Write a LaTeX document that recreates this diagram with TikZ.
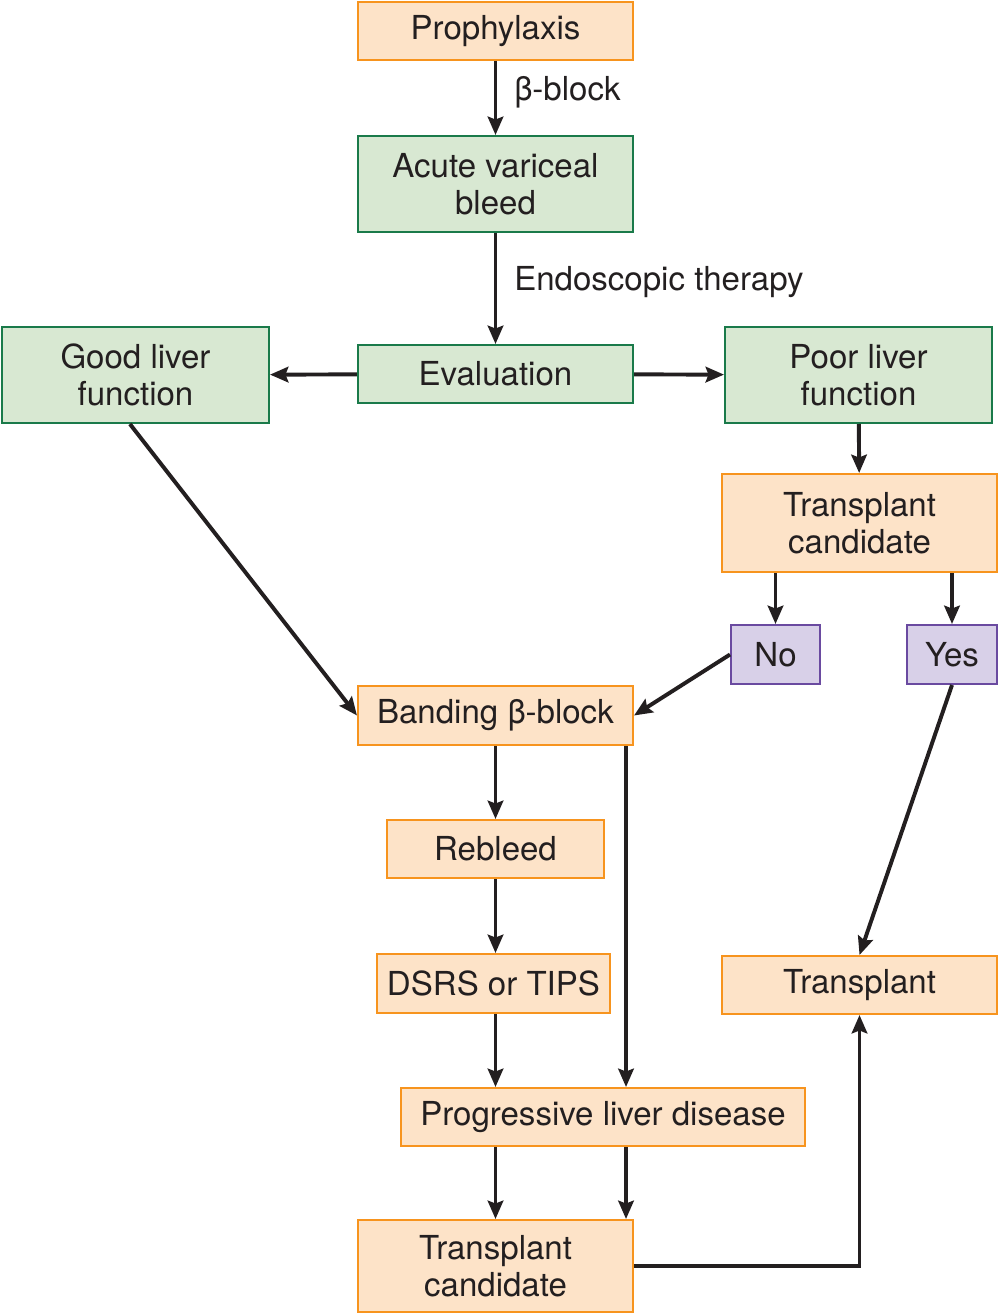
\documentclass[tikz,border=0pt]{standalone}
\usepackage{fontspec}
\setmainfont{TeX Gyre Heros}
\usetikzlibrary{arrows.meta,positioning}
\definecolor{peach}{RGB}{253,227,200}
\definecolor{peachline}{RGB}{247,148,30}
\definecolor{mint}{RGB}{216,232,210}
\definecolor{mintline}{RGB}{26,122,74}
\definecolor{lilac}{RGB}{216,208,232}
\definecolor{lilacline}{RGB}{106,74,160}
\definecolor{ink}{RGB}{35,31,32}

\tikzset{
  box/.style={draw, line width=1.4pt, align=center, inner sep=0pt, text=ink,
    font=\fontsize{23.5}{26.3}\selectfont},
  orangebox/.style={box, fill=peach, draw=peachline},
  greenbox/.style={box, fill=mint, draw=mintline},
  purplebox/.style={box, fill=lilac, draw=lilacline},
  flow/.style={-{Stealth[length=13pt,width=11pt,inset=2pt]}, line width=2.8pt, draw=ink},
  tag/.style={anchor=west, inner sep=0pt, text=ink, font=\fontsize{23.5}{26.3}\selectfont}
}

\begin{document}
\begin{tikzpicture}[x=0.025cm, y=-0.025cm]
    \useasboundingbox (0,0) rectangle (999,1314);

    % Top of the chart
    \node[orangebox, minimum width=6.875cm, minimum height=1.45cm] (proph) at (495.5,31) {Prophylaxis};
    \node[greenbox, minimum width=6.875cm, minimum height=2.4cm] (acute) at (495.5,184) {Acute variceal\\bleed};
    \node[greenbox, minimum width=6.875cm, minimum height=1.45cm] (eval) at (495.5,374) {Evaluation};
    \node[greenbox, minimum width=6.675cm, minimum height=2.4cm] (good) at (135.5,375) {Good liver\\function};
    \node[greenbox, minimum width=6.675cm, minimum height=2.4cm] (poor) at (858.5,375) {Poor liver\\function};

    % Right branch
    \node[orangebox, minimum width=6.875cm, minimum height=2.45cm] (tcand) at (859.5,523) {Transplant\\candidate};
    \node[purplebox, minimum width=2.225cm, minimum height=1.475cm] (no) at (775.5,654.5) {No};
    \node[purplebox, minimum width=2.25cm, minimum height=1.475cm] (yes) at (952,654.5) {Yes};
    \node[orangebox, minimum width=6.875cm, minimum height=1.45cm] (trans) at (859.5,985) {Transplant};

    % Left branch
    \node[orangebox, minimum width=6.875cm, minimum height=1.475cm] (band) at (495.5,715.5) {Banding β-block};
    \node[orangebox, minimum width=5.425cm, minimum height=1.45cm] (rebleed) at (495.5,849) {Rebleed};
    \node[orangebox, minimum width=5.825cm, minimum height=1.475cm] (dsrs) at (493.5,983.5) {DSRS or TIPS};
    \node[orangebox, minimum width=10.1cm, minimum height=1.45cm] (prog) at (603,1117) {Progressive liver disease};
    \node[orangebox, minimum width=6.875cm, minimum height=2.3cm] (cand) at (495.5,1266) {Transplant\\candidate};

    % Labels
    \node[tag] (lblbeta) at (514,92) {β-block};
    \node[tag] (lblendo) at (514,282) {Endoscopic therapy};

    % Arrows
    \draw[flow] (proph) -- (acute);
    \draw[flow] (acute) -- (eval);
    \draw[flow] (eval) -- (good);
    \draw[flow] (eval) -- (poor);
    \draw[flow] (poor) -- (tcand);
    \draw[flow] (no.north |- tcand.south) -- (no.north);
    \draw[flow] (yes.north |- tcand.south) -- (yes.north);
    \draw[flow] ([xshift=-0.14cm]good.south) -- (band.west);
    \draw[flow] (no.west) -- (band.east);
    \draw[flow] (yes.south) -- (trans.north);
    \draw[flow] (band) -- (rebleed);
    \draw[flow] (rebleed) -- (rebleed |- dsrs.north);
    \draw[flow] (dsrs.south -| band.south) -- (band.south |- prog.north);
    \draw[flow] ([xshift=-0.2cm]band.south east) -- ([xshift=-0.2cm]band.south east |- prog.north);
    \draw[flow] (cand.north |- prog.south) -- (cand.north);
    \draw[flow] ([xshift=-0.2cm]cand.north east |- prog.south) -- ([xshift=-0.2cm]cand.north east);
    \draw[flow] (cand.east) -| (trans.south);
\end{tikzpicture}
\end{document}
